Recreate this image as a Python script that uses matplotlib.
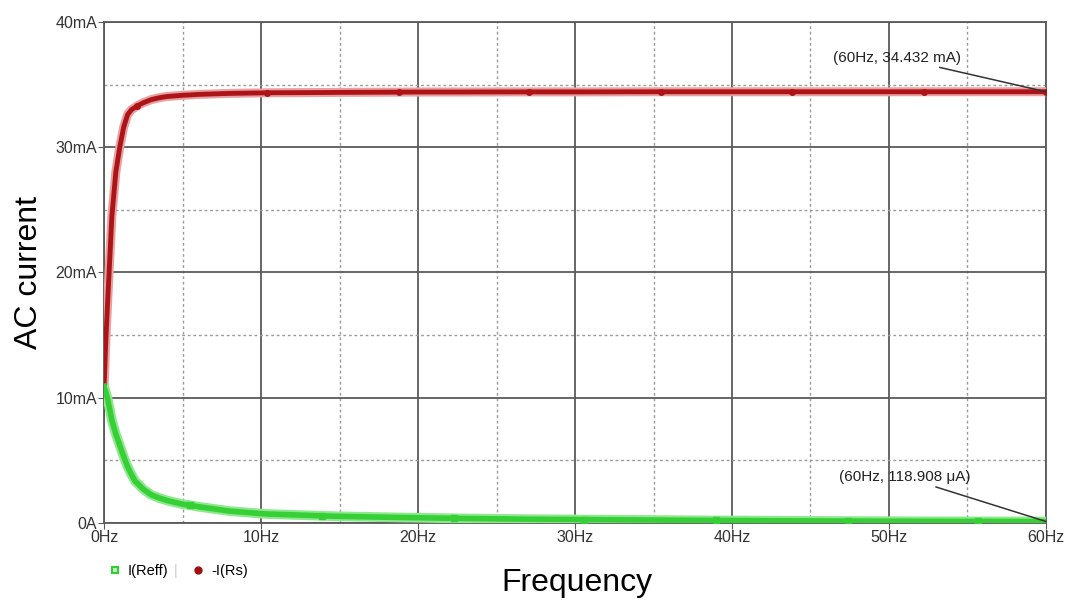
import numpy as np
import matplotlib.pyplot as plt

plt.rcParams['font.family'] = ['Liberation Sans', 'DejaVu Sans']

# frequency sweep (Hz) and currents (mA)
freq = [0, 0.1, 0.25, 0.5, 0.75, 1, 1.25, 1.5, 1.75, 2, 2.1, 2.5, 3, 3.5, 4,
        5, 5.5, 6, 8, 10, 10.4, 13.9, 15, 18.8, 20, 22.3, 27.1, 30, 30.6,
        35.5, 39, 40, 43.8, 47.4, 50, 52.2, 55.7, 60]
i_rs = [10.7, 14.2, 18.2, 24.5, 28.0, 30.0, 31.6, 32.6, 33.0, 33.2, 33.3,
        33.55, 33.8, 33.95, 34.05, 34.15, 34.18, 34.22, 34.3, 34.34, 34.35,
        34.37, 34.38, 34.4, 34.41, 34.41, 34.42, 34.42, 34.42, 34.43, 34.43,
        34.43, 34.43, 34.43, 34.43, 34.432, 34.432, 34.432]
i_reff = [10.9, 10.5, 9.8, 8.2, 7.1, 6.2, 5.3, 4.5, 3.85, 3.3, 3.2, 2.7, 2.25,
          2.0, 1.8, 1.5, 1.42, 1.3, 0.95, 0.75, 0.72, 0.57, 0.53, 0.44, 0.42,
          0.37, 0.3, 0.28, 0.27, 0.23, 0.2, 0.2, 0.17, 0.15, 0.14, 0.13,
          0.125, 0.119]

# frequencies where the simulator drew its trace markers
rs_marks = [2.1, 10.4, 18.8, 27.1, 35.5, 43.8, 52.2, 60]
reff_marks = [5.5, 13.9, 22.3, 30.6, 39, 47.4, 55.7]

xticks = [0, 10, 20, 30, 40, 50, 60]
xlabels = ['0Hz', '10Hz', '20Hz', '30Hz', '40Hz', '50Hz', '60Hz']
yticks = [0, 10, 20, 30, 40]
ylabels = ['0A', '10mA', '20mA', '30mA', '40mA']

fig = plt.figure(figsize=(10.67, 6.03), dpi=100)
ax = fig.add_axes([0.0975, 0.1327, 0.8828, 0.8308])

ax.set_xlim(0, 60)
ax.set_ylim(0, 40)

# grid: solid majors, dotted minors
ax.set_xticks(xticks)
ax.set_xticklabels(xlabels)
ax.set_yticks(yticks)
ax.set_yticklabels(ylabels)
ax.set_xticks([5, 15, 25, 35, 45, 55], minor=True)
ax.set_yticks([5, 15, 25, 35], minor=True)
ax.grid(which='major', color='#5a5a5a', linewidth=1.3)
ax.grid(which='minor', color='#9a9a9a', linewidth=1.0, linestyle=(0, (2, 2)))
ax.tick_params(which='minor', length=0)
ax.tick_params(which='major', length=4, color='#5a5a5a', labelsize=11.5,
               labelcolor='#333333', pad=1)
for s in ax.spines.values():
    s.set_color('#5a5a5a')
    s.set_linewidth(1.3)
ax.set_axisbelow(True)

rs_idx = [freq.index(f) for f in rs_marks]
reff_idx = [freq.index(f) for f in reff_marks]

# soft halo under each trace, then the trace itself
ax.plot(freq, i_rs, color='#e8a0a0', linewidth=6.5, solid_capstyle='round',
        solid_joinstyle='round', zorder=3)
ax.plot(freq, i_rs, color='#ad1418', linewidth=3.5, marker='o', markersize=4,
        markevery=rs_idx, solid_joinstyle='round', zorder=4, label='-I(Rs)')
ax.plot(freq, i_reff, color='#8ee88e', linewidth=7, solid_capstyle='round',
        solid_joinstyle='round', zorder=3)
ax.plot(freq, i_reff, color='#36cf36', linewidth=4, marker='s', markersize=5,
        markevery=reff_idx, solid_joinstyle='round', zorder=4, label='I(Reff)')

# cursor readouts
ax.annotate('(60Hz, 34.432 mA)', xy=(60, i_rs[-1]), xytext=(50.5, 36.6),
            ha='center', va='bottom', fontsize=11, color='#222222',
            arrowprops=dict(arrowstyle='-', color='#333333', lw=1.1,
                            shrinkA=0, shrinkB=0), zorder=5)
ax.annotate('(60Hz, 118.908 \u03bcA)', xy=(60, i_reff[-1]), xytext=(51.0, 3.1),
            ha='center', va='bottom', fontsize=11, color='#222222',
            arrowprops=dict(arrowstyle='-', color='#333333', lw=1.1,
                            shrinkA=0, shrinkB=0), zorder=5)

ax.set_ylabel('AC current', fontsize=23, labelpad=8)
fig.text(0.541, 0.033, 'Frequency', fontsize=23, ha='center', va='center')

# legend under the plot, like the simulator trace list
h_reff = plt.Line2D([], [], color='#33cc33', marker='s', markersize=5,
                    markerfacecolor='#bff0bf', markeredgewidth=1.5, linestyle='none')
h_rs = plt.Line2D([], [], color='#a01010', marker='o', markersize=5, linestyle='none')
fig.legend([h_reff, h_rs], ['I(Reff)', '-I(Rs)'], loc='center left',
           bbox_to_anchor=(0.09, 0.053), ncol=2, frameon=False, fontsize=10.5,
           handlelength=0.8, handletextpad=0.5, columnspacing=1.6)
fig.text(0.165, 0.053, '|', color='#cccccc', fontsize=10, ha='center', va='center')

fig.savefig('out.png', dpi=100)
